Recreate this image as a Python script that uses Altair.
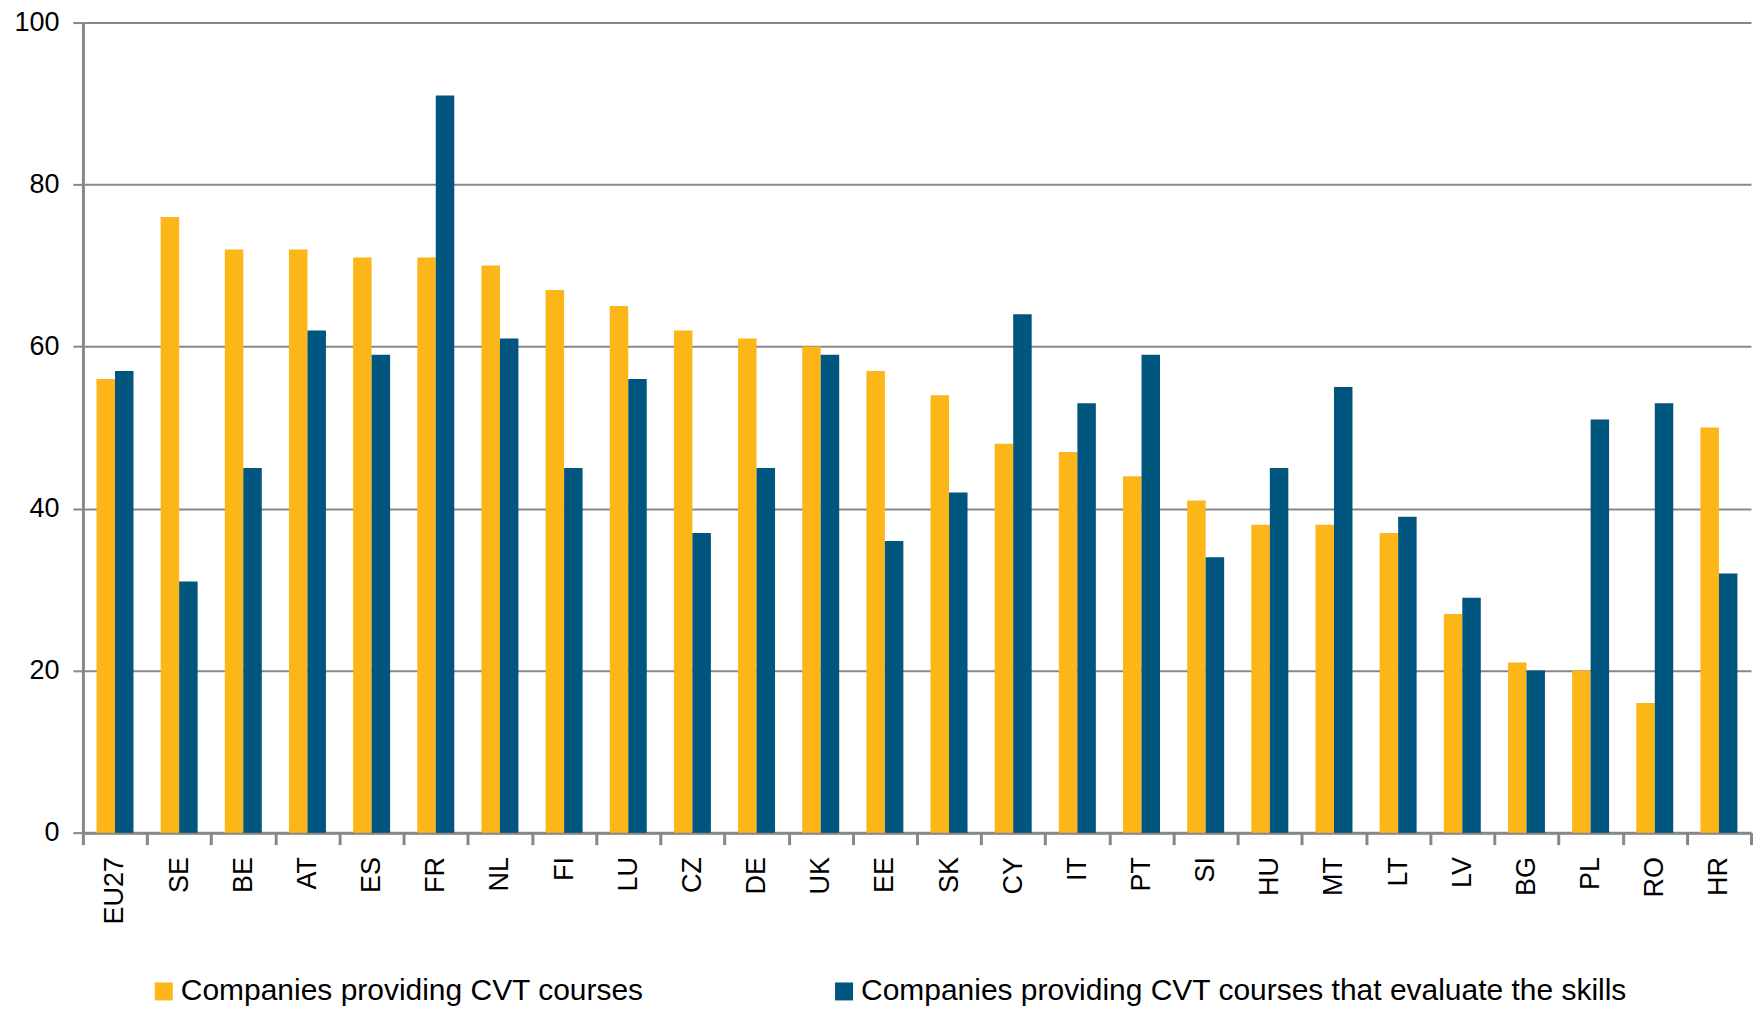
import altair as alt
import pandas as pd

countries = ["EU27", "SE", "BE", "AT", "ES", "FR", "NL", "FI", "LU", "CZ", "DE", "UK", "EE",
             "SK", "CY", "IT", "PT", "SI", "HU", "MT", "LT", "LV", "BG", "PL", "RO", "HR"]
cvt_courses = [56, 76, 72, 72, 71, 71, 70, 67, 65, 62, 61, 60, 57,
               54, 48, 47, 44, 41, 38, 38, 37, 27, 21, 20, 16, 50]
cvt_evaluate = [57, 31, 45, 62, 59, 91, 61, 45, 56, 37, 45, 59, 36,
                42, 64, 53, 59, 34, 45, 55, 39, 29, 20, 51, 53, 32]
series_names = ["Companies providing CVT courses",
                "Companies providing CVT courses that evaluate the skills"]
series_colors = ["#FCB618", "#00567F"]
y_ticks = [0, 20, 40, 60, 80, 100]

rows = []
for c, a, b in zip(countries, cvt_courses, cvt_evaluate):
    rows.append({"country": c, "series": series_names[0], "value": a})
    rows.append({"country": c, "series": series_names[1], "value": b})
df = pd.DataFrame(rows)

FONT = "Liberation Sans"
GRAY = "#878787"

chart = alt.Chart(df).mark_bar().encode(
    x=alt.X("country:N", sort=countries,
            scale=alt.Scale(paddingInner=0, paddingOuter=0),
            axis=alt.Axis(title=None, labelAngle=270, labelFontSize=27, labelFont=FONT,
                          labelColor="black", tickBand="extent", tickSize=12, tickWidth=3,
                          tickColor=GRAY, domainColor=GRAY, domainWidth=3,
                          labelPadding=12, grid=False)),
    xOffset=alt.XOffset("series:N", sort=series_names,
                        scale=alt.Scale(paddingInner=0, paddingOuter=0.735)),
    y=alt.Y("value:Q", scale=alt.Scale(domain=[0, 100], nice=False),
            axis=alt.Axis(values=y_ticks, title=None, grid=True, gridColor=GRAY, gridWidth=2,
                          labelFontSize=27, labelFont=FONT, labelColor="black",
                          tickSize=10, tickWidth=2, tickColor=GRAY,
                          domainColor=GRAY, domainWidth=3, labelPadding=14)),
    color=alt.Color("series:N", sort=series_names,
                    scale=alt.Scale(domain=series_names, range=series_colors),
                    legend=alt.Legend(title=None, orient="none", legendX=66, legendY=955,
                                      direction="horizontal", symbolType="square",
                                      symbolSize=324, symbolStrokeWidth=0,
                                      labelFontSize=30, labelFont=FONT, labelColor="black",
                                      labelOffset=2, columnPadding=185, padding=0,
                                      labelLimit=1000)),
).properties(
    width=1670, height=811,
    padding={"left": 75, "top": 14, "right": 5, "bottom": 180},
    autosize=alt.AutoSizeParams(type="none"),
).configure_view(stroke=None)

chart.save("out.html", embed_options={"renderer": "svg", "actions": False})
